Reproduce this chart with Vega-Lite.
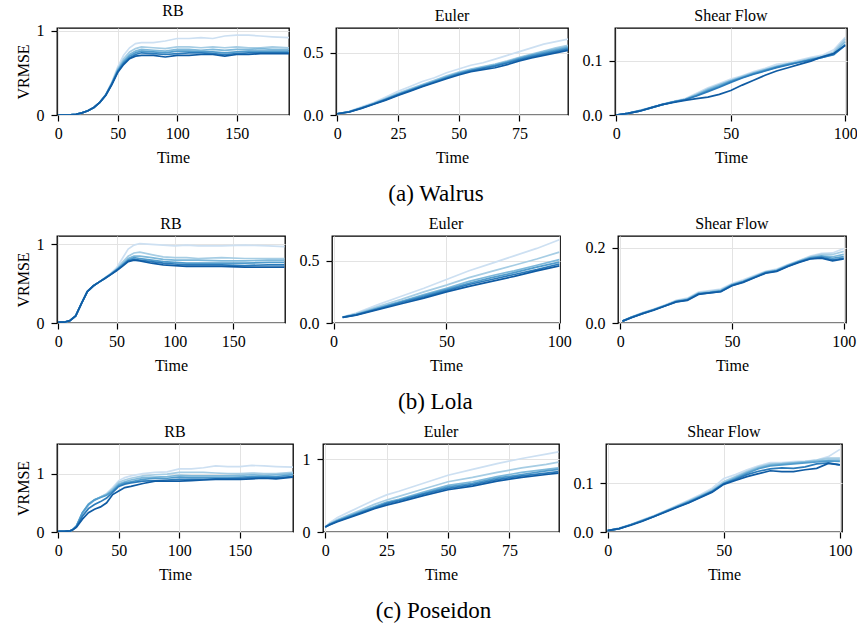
{
"$schema":"https://vega.github.io/schema/vega-lite/v6.json",
"background":"white",
"padding":{"left":14,"top":2,"right":2,"bottom":2},
"config":{
 "font":"Liberation Serif",
 "view":{"stroke":"#000","strokeWidth":1.3},
 "axis":{"domain":false,"labelFont":"Liberation Serif","titleFont":"Liberation Serif"},
 "title":{"font":"Liberation Serif","fontWeight":"normal"}
},
"datasets":{
"wRB":[
{"t":0,"s":1,"v":0},{"t":10,"s":1,"v":0.002},{"t":15,"s":1,"v":0.008},{"t":20,"s":1,"v":0.025},{"t":25,"s":1,"v":0.05},{"t":30,"s":1,"v":0.09},{"t":35,"s":1,"v":0.15},{"t":40,"s":1,"v":0.245},{"t":45,"s":1,"v":0.39},{"t":50,"s":1,"v":0.57},{"t":55,"s":1,"v":0.71},{"t":60,"s":1,"v":0.8},{"t":65,"s":1,"v":0.85},{"t":70,"s":1,"v":0.86},{"t":80,"s":1,"v":0.86},{"t":90,"s":1,"v":0.88},{"t":100,"s":1,"v":0.91},{"t":110,"s":1,"v":0.91},{"t":120,"s":1,"v":0.92},{"t":130,"s":1,"v":0.91},{"t":140,"s":1,"v":0.94},{"t":150,"s":1,"v":0.95},{"t":160,"s":1,"v":0.95},{"t":170,"s":1,"v":0.94},{"t":180,"s":1,"v":0.93},{"t":194,"s":1,"v":0.92},
{"t":0,"s":2,"v":0},{"t":10,"s":2,"v":0.002},{"t":15,"s":2,"v":0.008},{"t":20,"s":2,"v":0.025},{"t":25,"s":2,"v":0.05},{"t":30,"s":2,"v":0.09},{"t":35,"s":2,"v":0.15},{"t":40,"s":2,"v":0.24},{"t":45,"s":2,"v":0.38},{"t":50,"s":2,"v":0.55},{"t":55,"s":2,"v":0.67},{"t":60,"s":2,"v":0.75},{"t":65,"s":2,"v":0.79},{"t":70,"s":2,"v":0.81},{"t":80,"s":2,"v":0.8},{"t":90,"s":2,"v":0.79},{"t":100,"s":2,"v":0.81},{"t":110,"s":2,"v":0.81},{"t":120,"s":2,"v":0.8},{"t":130,"s":2,"v":0.81},{"t":140,"s":2,"v":0.8},{"t":150,"s":2,"v":0.81},{"t":160,"s":2,"v":0.8},{"t":170,"s":2,"v":0.8},{"t":180,"s":2,"v":0.81},{"t":194,"s":2,"v":0.8},
{"t":0,"s":3,"v":0},{"t":10,"s":3,"v":0.002},{"t":15,"s":3,"v":0.008},{"t":20,"s":3,"v":0.025},{"t":25,"s":3,"v":0.05},{"t":30,"s":3,"v":0.09},{"t":35,"s":3,"v":0.15},{"t":40,"s":3,"v":0.24},{"t":45,"s":3,"v":0.375},{"t":50,"s":3,"v":0.535},{"t":55,"s":3,"v":0.645},{"t":60,"s":3,"v":0.72},{"t":65,"s":3,"v":0.76},{"t":70,"s":3,"v":0.78},{"t":80,"s":3,"v":0.77},{"t":90,"s":3,"v":0.76},{"t":100,"s":3,"v":0.78},{"t":110,"s":3,"v":0.78},{"t":120,"s":3,"v":0.77},{"t":130,"s":3,"v":0.78},{"t":140,"s":3,"v":0.77},{"t":150,"s":3,"v":0.78},{"t":160,"s":3,"v":0.78},{"t":170,"s":3,"v":0.79},{"t":180,"s":3,"v":0.78},{"t":194,"s":3,"v":0.78},
{"t":0,"s":4,"v":0},{"t":10,"s":4,"v":0.002},{"t":15,"s":4,"v":0.008},{"t":20,"s":4,"v":0.025},{"t":25,"s":4,"v":0.05},{"t":30,"s":4,"v":0.09},{"t":35,"s":4,"v":0.15},{"t":40,"s":4,"v":0.24},{"t":45,"s":4,"v":0.37},{"t":50,"s":4,"v":0.525},{"t":55,"s":4,"v":0.63},{"t":60,"s":4,"v":0.7},{"t":65,"s":4,"v":0.74},{"t":70,"s":4,"v":0.76},{"t":80,"s":4,"v":0.75},{"t":90,"s":4,"v":0.74},{"t":100,"s":4,"v":0.76},{"t":110,"s":4,"v":0.76},{"t":120,"s":4,"v":0.75},{"t":130,"s":4,"v":0.75},{"t":140,"s":4,"v":0.74},{"t":150,"s":4,"v":0.75},{"t":160,"s":4,"v":0.76},{"t":170,"s":4,"v":0.76},{"t":180,"s":4,"v":0.76},{"t":194,"s":4,"v":0.76},
{"t":0,"s":5,"v":0},{"t":10,"s":5,"v":0.002},{"t":15,"s":5,"v":0.008},{"t":20,"s":5,"v":0.025},{"t":25,"s":5,"v":0.05},{"t":30,"s":5,"v":0.09},{"t":35,"s":5,"v":0.15},{"t":40,"s":5,"v":0.235},{"t":45,"s":5,"v":0.365},{"t":50,"s":5,"v":0.515},{"t":55,"s":5,"v":0.615},{"t":60,"s":5,"v":0.68},{"t":65,"s":5,"v":0.72},{"t":70,"s":5,"v":0.74},{"t":80,"s":5,"v":0.73},{"t":90,"s":5,"v":0.72},{"t":100,"s":5,"v":0.73},{"t":110,"s":5,"v":0.74},{"t":120,"s":5,"v":0.74},{"t":130,"s":5,"v":0.73},{"t":140,"s":5,"v":0.72},{"t":150,"s":5,"v":0.73},{"t":160,"s":5,"v":0.74},{"t":170,"s":5,"v":0.74},{"t":180,"s":5,"v":0.74},{"t":194,"s":5,"v":0.74},
{"t":0,"s":6,"v":0},{"t":10,"s":6,"v":0.002},{"t":15,"s":6,"v":0.008},{"t":20,"s":6,"v":0.025},{"t":25,"s":6,"v":0.05},{"t":30,"s":6,"v":0.09},{"t":35,"s":6,"v":0.15},{"t":40,"s":6,"v":0.235},{"t":45,"s":6,"v":0.36},{"t":50,"s":6,"v":0.505},{"t":55,"s":6,"v":0.6},{"t":60,"s":6,"v":0.67},{"t":65,"s":6,"v":0.7},{"t":70,"s":6,"v":0.71},{"t":80,"s":6,"v":0.71},{"t":90,"s":6,"v":0.69},{"t":100,"s":6,"v":0.71},{"t":110,"s":6,"v":0.71},{"t":120,"s":6,"v":0.72},{"t":130,"s":6,"v":0.72},{"t":140,"s":6,"v":0.7},{"t":150,"s":6,"v":0.72},{"t":160,"s":6,"v":0.72},{"t":170,"s":6,"v":0.73},{"t":180,"s":6,"v":0.73},{"t":194,"s":6,"v":0.73}
],
"wEu":[
{"t":0,"s":1,"v":0.01},{"t":5,"s":1,"v":0.03},{"t":10,"s":1,"v":0.065},{"t":15,"s":1,"v":0.1},{"t":20,"s":1,"v":0.145},{"t":25,"s":1,"v":0.19},{"t":30,"s":1,"v":0.23},{"t":35,"s":1,"v":0.27},{"t":40,"s":1,"v":0.3},{"t":45,"s":1,"v":0.34},{"t":50,"s":1,"v":0.37},{"t":55,"s":1,"v":0.4},{"t":60,"s":1,"v":0.42},{"t":65,"s":1,"v":0.45},{"t":70,"s":1,"v":0.48},{"t":75,"s":1,"v":0.51},{"t":80,"s":1,"v":0.54},{"t":85,"s":1,"v":0.57},{"t":90,"s":1,"v":0.59},{"t":95,"s":1,"v":0.61},
{"t":0,"s":2,"v":0.01},{"t":5,"s":2,"v":0.028},{"t":10,"s":2,"v":0.06},{"t":15,"s":2,"v":0.095},{"t":20,"s":2,"v":0.135},{"t":25,"s":2,"v":0.175},{"t":30,"s":2,"v":0.21},{"t":35,"s":2,"v":0.245},{"t":40,"s":2,"v":0.28},{"t":45,"s":2,"v":0.315},{"t":50,"s":2,"v":0.345},{"t":55,"s":2,"v":0.37},{"t":60,"s":2,"v":0.39},{"t":65,"s":2,"v":0.41},{"t":70,"s":2,"v":0.435},{"t":75,"s":2,"v":0.465},{"t":80,"s":2,"v":0.49},{"t":85,"s":2,"v":0.515},{"t":90,"s":2,"v":0.54},{"t":95,"s":2,"v":0.56},
{"t":0,"s":3,"v":0.01},{"t":5,"s":3,"v":0.027},{"t":10,"s":3,"v":0.058},{"t":15,"s":3,"v":0.092},{"t":20,"s":3,"v":0.13},{"t":25,"s":3,"v":0.17},{"t":30,"s":3,"v":0.205},{"t":35,"s":3,"v":0.24},{"t":40,"s":3,"v":0.275},{"t":45,"s":3,"v":0.31},{"t":50,"s":3,"v":0.34},{"t":55,"s":3,"v":0.365},{"t":60,"s":3,"v":0.385},{"t":65,"s":3,"v":0.405},{"t":70,"s":3,"v":0.43},{"t":75,"s":3,"v":0.46},{"t":80,"s":3,"v":0.485},{"t":85,"s":3,"v":0.51},{"t":90,"s":3,"v":0.53},{"t":95,"s":3,"v":0.55},
{"t":0,"s":4,"v":0.01},{"t":5,"s":4,"v":0.026},{"t":10,"s":4,"v":0.056},{"t":15,"s":4,"v":0.09},{"t":20,"s":4,"v":0.127},{"t":25,"s":4,"v":0.165},{"t":30,"s":4,"v":0.2},{"t":35,"s":4,"v":0.235},{"t":40,"s":4,"v":0.27},{"t":45,"s":4,"v":0.303},{"t":50,"s":4,"v":0.335},{"t":55,"s":4,"v":0.36},{"t":60,"s":4,"v":0.38},{"t":65,"s":4,"v":0.4},{"t":70,"s":4,"v":0.425},{"t":75,"s":4,"v":0.455},{"t":80,"s":4,"v":0.48},{"t":85,"s":4,"v":0.5},{"t":90,"s":4,"v":0.52},{"t":95,"s":4,"v":0.54},
{"t":0,"s":5,"v":0.01},{"t":5,"s":5,"v":0.025},{"t":10,"s":5,"v":0.055},{"t":15,"s":5,"v":0.088},{"t":20,"s":5,"v":0.124},{"t":25,"s":5,"v":0.162},{"t":30,"s":5,"v":0.197},{"t":35,"s":5,"v":0.232},{"t":40,"s":5,"v":0.266},{"t":45,"s":5,"v":0.298},{"t":50,"s":5,"v":0.33},{"t":55,"s":5,"v":0.355},{"t":60,"s":5,"v":0.375},{"t":65,"s":5,"v":0.393},{"t":70,"s":5,"v":0.418},{"t":75,"s":5,"v":0.445},{"t":80,"s":5,"v":0.47},{"t":85,"s":5,"v":0.49},{"t":90,"s":5,"v":0.51},{"t":95,"s":5,"v":0.53},
{"t":0,"s":6,"v":0.01},{"t":5,"s":6,"v":0.024},{"t":10,"s":6,"v":0.053},{"t":15,"s":6,"v":0.086},{"t":20,"s":6,"v":0.12},{"t":25,"s":6,"v":0.158},{"t":30,"s":6,"v":0.192},{"t":35,"s":6,"v":0.227},{"t":40,"s":6,"v":0.26},{"t":45,"s":6,"v":0.292},{"t":50,"s":6,"v":0.322},{"t":55,"s":6,"v":0.348},{"t":60,"s":6,"v":0.365},{"t":65,"s":6,"v":0.38},{"t":70,"s":6,"v":0.405},{"t":75,"s":6,"v":0.435},{"t":80,"s":6,"v":0.46},{"t":85,"s":6,"v":0.48},{"t":90,"s":6,"v":0.5},{"t":95,"s":6,"v":0.52}
],
"wSh":[
{"t":0,"s":1,"v":0},{"t":5,"s":1,"v":0.003},{"t":10,"s":1,"v":0.008},{"t":15,"s":1,"v":0.014},{"t":20,"s":1,"v":0.02},{"t":25,"s":1,"v":0.025},{"t":30,"s":1,"v":0.03},{"t":35,"s":1,"v":0.04},{"t":40,"s":1,"v":0.05},{"t":45,"s":1,"v":0.058},{"t":50,"s":1,"v":0.066},{"t":55,"s":1,"v":0.072},{"t":60,"s":1,"v":0.08},{"t":65,"s":1,"v":0.086},{"t":70,"s":1,"v":0.093},{"t":75,"s":1,"v":0.096},{"t":80,"s":1,"v":0.101},{"t":85,"s":1,"v":0.106},{"t":90,"s":1,"v":0.11},{"t":95,"s":1,"v":0.12},{"t":100,"s":1,"v":0.143},
{"t":0,"s":2,"v":0},{"t":5,"s":2,"v":0.003},{"t":10,"s":2,"v":0.008},{"t":15,"s":2,"v":0.013},{"t":20,"s":2,"v":0.019},{"t":25,"s":2,"v":0.024},{"t":30,"s":2,"v":0.029},{"t":35,"s":2,"v":0.038},{"t":40,"s":2,"v":0.048},{"t":45,"s":2,"v":0.056},{"t":50,"s":2,"v":0.064},{"t":55,"s":2,"v":0.071},{"t":60,"s":2,"v":0.078},{"t":65,"s":2,"v":0.084},{"t":70,"s":2,"v":0.09},{"t":75,"s":2,"v":0.094},{"t":80,"s":2,"v":0.099},{"t":85,"s":2,"v":0.104},{"t":90,"s":2,"v":0.108},{"t":95,"s":2,"v":0.116},{"t":100,"s":2,"v":0.14},
{"t":0,"s":3,"v":0},{"t":5,"s":3,"v":0.003},{"t":10,"s":3,"v":0.008},{"t":15,"s":3,"v":0.013},{"t":20,"s":3,"v":0.019},{"t":25,"s":3,"v":0.024},{"t":30,"s":3,"v":0.029},{"t":35,"s":3,"v":0.037},{"t":40,"s":3,"v":0.047},{"t":45,"s":3,"v":0.055},{"t":50,"s":3,"v":0.063},{"t":55,"s":3,"v":0.07},{"t":60,"s":3,"v":0.077},{"t":65,"s":3,"v":0.083},{"t":70,"s":3,"v":0.089},{"t":75,"s":3,"v":0.094},{"t":80,"s":3,"v":0.098},{"t":85,"s":3,"v":0.103},{"t":90,"s":3,"v":0.107},{"t":95,"s":3,"v":0.114},{"t":100,"s":3,"v":0.135},
{"t":0,"s":4,"v":0},{"t":5,"s":4,"v":0.003},{"t":10,"s":4,"v":0.007},{"t":15,"s":4,"v":0.013},{"t":20,"s":4,"v":0.019},{"t":25,"s":4,"v":0.024},{"t":30,"s":4,"v":0.028},{"t":35,"s":4,"v":0.036},{"t":40,"s":4,"v":0.045},{"t":45,"s":4,"v":0.053},{"t":50,"s":4,"v":0.062},{"t":55,"s":4,"v":0.069},{"t":60,"s":4,"v":0.076},{"t":65,"s":4,"v":0.082},{"t":70,"s":4,"v":0.088},{"t":75,"s":4,"v":0.093},{"t":80,"s":4,"v":0.097},{"t":85,"s":4,"v":0.102},{"t":90,"s":4,"v":0.106},{"t":95,"s":4,"v":0.112},{"t":100,"s":4,"v":0.13},
{"t":0,"s":5,"v":0},{"t":5,"s":5,"v":0.003},{"t":10,"s":5,"v":0.007},{"t":15,"s":5,"v":0.013},{"t":20,"s":5,"v":0.019},{"t":25,"s":5,"v":0.024},{"t":30,"s":5,"v":0.028},{"t":35,"s":5,"v":0.035},{"t":40,"s":5,"v":0.043},{"t":45,"s":5,"v":0.051},{"t":50,"s":5,"v":0.06},{"t":55,"s":5,"v":0.068},{"t":60,"s":5,"v":0.075},{"t":65,"s":5,"v":0.081},{"t":70,"s":5,"v":0.087},{"t":75,"s":5,"v":0.092},{"t":80,"s":5,"v":0.097},{"t":85,"s":5,"v":0.101},{"t":90,"s":5,"v":0.106},{"t":95,"s":5,"v":0.111},{"t":100,"s":5,"v":0.128},
{"t":0,"s":6,"v":0},{"t":5,"s":6,"v":0.003},{"t":10,"s":6,"v":0.007},{"t":15,"s":6,"v":0.013},{"t":20,"s":6,"v":0.019},{"t":25,"s":6,"v":0.023},{"t":30,"s":6,"v":0.027},{"t":35,"s":6,"v":0.03},{"t":40,"s":6,"v":0.033},{"t":45,"s":6,"v":0.038},{"t":50,"s":6,"v":0.045},{"t":55,"s":6,"v":0.055},{"t":60,"s":6,"v":0.064},{"t":65,"s":6,"v":0.073},{"t":70,"s":6,"v":0.081},{"t":75,"s":6,"v":0.087},{"t":80,"s":6,"v":0.093},{"t":85,"s":6,"v":0.099},{"t":90,"s":6,"v":0.107},{"t":95,"s":6,"v":0.113},{"t":100,"s":6,"v":0.128}
],
"lRB":[
{"t":0,"s":1,"v":0.01},{"t":5,"s":1,"v":0.01},{"t":10,"s":1,"v":0.03},{"t":15,"s":1,"v":0.09},{"t":20,"s":1,"v":0.25},{"t":25,"s":1,"v":0.4},{"t":30,"s":1,"v":0.47},{"t":35,"s":1,"v":0.52},{"t":40,"s":1,"v":0.575},{"t":45,"s":1,"v":0.63},{"t":50,"s":1,"v":0.7},{"t":55,"s":1,"v":0.82},{"t":60,"s":1,"v":0.94},{"t":65,"s":1,"v":0.99},{"t":70,"s":1,"v":1.01},{"t":80,"s":1,"v":1.0},{"t":90,"s":1,"v":0.99},{"t":100,"s":1,"v":0.98},{"t":110,"s":1,"v":0.99},{"t":120,"s":1,"v":0.98},{"t":140,"s":1,"v":0.98},{"t":160,"s":1,"v":0.99},{"t":180,"s":1,"v":0.98},{"t":194,"s":1,"v":0.97},
{"t":0,"s":2,"v":0.01},{"t":5,"s":2,"v":0.01},{"t":10,"s":2,"v":0.03},{"t":15,"s":2,"v":0.09},{"t":20,"s":2,"v":0.25},{"t":25,"s":2,"v":0.4},{"t":30,"s":2,"v":0.47},{"t":35,"s":2,"v":0.52},{"t":40,"s":2,"v":0.57},{"t":45,"s":2,"v":0.625},{"t":50,"s":2,"v":0.685},{"t":55,"s":2,"v":0.77},{"t":60,"s":2,"v":0.85},{"t":65,"s":2,"v":0.89},{"t":70,"s":2,"v":0.9},{"t":80,"s":2,"v":0.87},{"t":90,"s":2,"v":0.84},{"t":100,"s":2,"v":0.83},{"t":110,"s":2,"v":0.83},{"t":120,"s":2,"v":0.82},{"t":140,"s":2,"v":0.83},{"t":160,"s":2,"v":0.82},{"t":180,"s":2,"v":0.82},{"t":194,"s":2,"v":0.82},
{"t":0,"s":3,"v":0.01},{"t":5,"s":3,"v":0.01},{"t":10,"s":3,"v":0.03},{"t":15,"s":3,"v":0.09},{"t":20,"s":3,"v":0.25},{"t":25,"s":3,"v":0.4},{"t":30,"s":3,"v":0.47},{"t":35,"s":3,"v":0.52},{"t":40,"s":3,"v":0.57},{"t":45,"s":3,"v":0.62},{"t":50,"s":3,"v":0.68},{"t":55,"s":3,"v":0.75},{"t":60,"s":3,"v":0.82},{"t":65,"s":3,"v":0.85},{"t":70,"s":3,"v":0.85},{"t":80,"s":3,"v":0.83},{"t":90,"s":3,"v":0.81},{"t":100,"s":3,"v":0.8},{"t":110,"s":3,"v":0.8},{"t":120,"s":3,"v":0.8},{"t":140,"s":3,"v":0.79},{"t":160,"s":3,"v":0.79},{"t":180,"s":3,"v":0.8},{"t":194,"s":3,"v":0.8},
{"t":0,"s":4,"v":0.01},{"t":5,"s":4,"v":0.01},{"t":10,"s":4,"v":0.03},{"t":15,"s":4,"v":0.09},{"t":20,"s":4,"v":0.25},{"t":25,"s":4,"v":0.4},{"t":30,"s":4,"v":0.47},{"t":35,"s":4,"v":0.52},{"t":40,"s":4,"v":0.57},{"t":45,"s":4,"v":0.62},{"t":50,"s":4,"v":0.675},{"t":55,"s":4,"v":0.74},{"t":60,"s":4,"v":0.8},{"t":65,"s":4,"v":0.83},{"t":70,"s":4,"v":0.82},{"t":80,"s":4,"v":0.8},{"t":90,"s":4,"v":0.78},{"t":100,"s":4,"v":0.77},{"t":110,"s":4,"v":0.76},{"t":120,"s":4,"v":0.76},{"t":140,"s":4,"v":0.76},{"t":160,"s":4,"v":0.76},{"t":180,"s":4,"v":0.77},{"t":194,"s":4,"v":0.77},
{"t":0,"s":5,"v":0.01},{"t":5,"s":5,"v":0.01},{"t":10,"s":5,"v":0.03},{"t":15,"s":5,"v":0.09},{"t":20,"s":5,"v":0.25},{"t":25,"s":5,"v":0.4},{"t":30,"s":5,"v":0.47},{"t":35,"s":5,"v":0.52},{"t":40,"s":5,"v":0.565},{"t":45,"s":5,"v":0.615},{"t":50,"s":5,"v":0.67},{"t":55,"s":5,"v":0.73},{"t":60,"s":5,"v":0.79},{"t":65,"s":5,"v":0.81},{"t":70,"s":5,"v":0.8},{"t":80,"s":5,"v":0.78},{"t":90,"s":5,"v":0.76},{"t":100,"s":5,"v":0.75},{"t":110,"s":5,"v":0.74},{"t":120,"s":5,"v":0.74},{"t":140,"s":5,"v":0.74},{"t":160,"s":5,"v":0.73},{"t":180,"s":5,"v":0.74},{"t":194,"s":5,"v":0.74},
{"t":0,"s":6,"v":0.01},{"t":5,"s":6,"v":0.01},{"t":10,"s":6,"v":0.03},{"t":15,"s":6,"v":0.09},{"t":20,"s":6,"v":0.25},{"t":25,"s":6,"v":0.4},{"t":30,"s":6,"v":0.47},{"t":35,"s":6,"v":0.52},{"t":40,"s":6,"v":0.565},{"t":45,"s":6,"v":0.615},{"t":50,"s":6,"v":0.665},{"t":55,"s":6,"v":0.72},{"t":60,"s":6,"v":0.78},{"t":65,"s":6,"v":0.8},{"t":70,"s":6,"v":0.79},{"t":80,"s":6,"v":0.76},{"t":90,"s":6,"v":0.74},{"t":100,"s":6,"v":0.73},{"t":110,"s":6,"v":0.72},{"t":120,"s":6,"v":0.72},{"t":140,"s":6,"v":0.72},{"t":160,"s":6,"v":0.71},{"t":180,"s":6,"v":0.71},{"t":194,"s":6,"v":0.71}
],
"lEu":[
{"t":4,"s":1,"v":0.048},{"t":10,"s":1,"v":0.08},{"t":20,"s":1,"v":0.15},{"t":30,"s":1,"v":0.215},{"t":40,"s":1,"v":0.28},{"t":50,"s":1,"v":0.35},{"t":60,"s":1,"v":0.42},{"t":70,"s":1,"v":0.48},{"t":80,"s":1,"v":0.54},{"t":90,"s":1,"v":0.6},{"t":100,"s":1,"v":0.67},
{"t":4,"s":2,"v":0.048},{"t":10,"s":2,"v":0.075},{"t":20,"s":2,"v":0.135},{"t":30,"s":2,"v":0.19},{"t":40,"s":2,"v":0.25},{"t":50,"s":2,"v":0.305},{"t":60,"s":2,"v":0.365},{"t":70,"s":2,"v":0.415},{"t":80,"s":2,"v":0.465},{"t":90,"s":2,"v":0.515},{"t":100,"s":2,"v":0.57},
{"t":4,"s":3,"v":0.046},{"t":10,"s":3,"v":0.07},{"t":20,"s":3,"v":0.125},{"t":30,"s":3,"v":0.175},{"t":40,"s":3,"v":0.228},{"t":50,"s":3,"v":0.28},{"t":60,"s":3,"v":0.335},{"t":70,"s":3,"v":0.38},{"t":80,"s":3,"v":0.42},{"t":90,"s":3,"v":0.465},{"t":100,"s":3,"v":0.51},
{"t":4,"s":4,"v":0.046},{"t":10,"s":4,"v":0.068},{"t":20,"s":4,"v":0.12},{"t":30,"s":4,"v":0.17},{"t":40,"s":4,"v":0.22},{"t":50,"s":4,"v":0.27},{"t":60,"s":4,"v":0.32},{"t":70,"s":4,"v":0.365},{"t":80,"s":4,"v":0.405},{"t":90,"s":4,"v":0.45},{"t":100,"s":4,"v":0.49},
{"t":4,"s":5,"v":0.045},{"t":10,"s":5,"v":0.066},{"t":20,"s":5,"v":0.115},{"t":30,"s":5,"v":0.165},{"t":40,"s":5,"v":0.21},{"t":50,"s":5,"v":0.26},{"t":60,"s":5,"v":0.31},{"t":70,"s":5,"v":0.35},{"t":80,"s":5,"v":0.39},{"t":90,"s":5,"v":0.43},{"t":100,"s":5,"v":0.475},
{"t":4,"s":6,"v":0.045},{"t":10,"s":6,"v":0.063},{"t":20,"s":6,"v":0.11},{"t":30,"s":6,"v":0.155},{"t":40,"s":6,"v":0.2},{"t":50,"s":6,"v":0.25},{"t":60,"s":6,"v":0.295},{"t":70,"s":6,"v":0.335},{"t":80,"s":6,"v":0.375},{"t":90,"s":6,"v":0.42},{"t":100,"s":6,"v":0.46}
],
"lSh":[
{"t":1,"s":1,"v":0.005},{"t":5,"s":1,"v":0.016},{"t":10,"s":1,"v":0.028},{"t":15,"s":1,"v":0.037},{"t":20,"s":1,"v":0.048},{"t":25,"s":1,"v":0.06},{"t":30,"s":1,"v":0.066},{"t":35,"s":1,"v":0.082},{"t":40,"s":1,"v":0.086},{"t":45,"s":1,"v":0.09},{"t":50,"s":1,"v":0.105},{"t":55,"s":1,"v":0.115},{"t":60,"s":1,"v":0.126},{"t":65,"s":1,"v":0.137},{"t":70,"s":1,"v":0.143},{"t":75,"s":1,"v":0.155},{"t":80,"s":1,"v":0.166},{"t":85,"s":1,"v":0.178},{"t":90,"s":1,"v":0.185},{"t":95,"s":1,"v":0.186},{"t":100,"s":1,"v":0.198},
{"t":1,"s":2,"v":0.005},{"t":5,"s":2,"v":0.016},{"t":10,"s":2,"v":0.027},{"t":15,"s":2,"v":0.036},{"t":20,"s":2,"v":0.047},{"t":25,"s":2,"v":0.059},{"t":30,"s":2,"v":0.064},{"t":35,"s":2,"v":0.08},{"t":40,"s":2,"v":0.084},{"t":45,"s":2,"v":0.088},{"t":50,"s":2,"v":0.103},{"t":55,"s":2,"v":0.112},{"t":60,"s":2,"v":0.124},{"t":65,"s":2,"v":0.136},{"t":70,"s":2,"v":0.141},{"t":75,"s":2,"v":0.154},{"t":80,"s":2,"v":0.165},{"t":85,"s":2,"v":0.176},{"t":90,"s":2,"v":0.182},{"t":95,"s":2,"v":0.182},{"t":100,"s":2,"v":0.19},
{"t":1,"s":3,"v":0.005},{"t":5,"s":3,"v":0.015},{"t":10,"s":3,"v":0.026},{"t":15,"s":3,"v":0.036},{"t":20,"s":3,"v":0.046},{"t":25,"s":3,"v":0.058},{"t":30,"s":3,"v":0.063},{"t":35,"s":3,"v":0.079},{"t":40,"s":3,"v":0.082},{"t":45,"s":3,"v":0.086},{"t":50,"s":3,"v":0.102},{"t":55,"s":3,"v":0.111},{"t":60,"s":3,"v":0.123},{"t":65,"s":3,"v":0.135},{"t":70,"s":3,"v":0.14},{"t":75,"s":3,"v":0.153},{"t":80,"s":3,"v":0.164},{"t":85,"s":3,"v":0.174},{"t":90,"s":3,"v":0.178},{"t":95,"s":3,"v":0.176},{"t":100,"s":3,"v":0.182},
{"t":1,"s":4,"v":0.005},{"t":5,"s":4,"v":0.015},{"t":10,"s":4,"v":0.026},{"t":15,"s":4,"v":0.035},{"t":20,"s":4,"v":0.046},{"t":25,"s":4,"v":0.057},{"t":30,"s":4,"v":0.062},{"t":35,"s":4,"v":0.078},{"t":40,"s":4,"v":0.081},{"t":45,"s":4,"v":0.085},{"t":50,"s":4,"v":0.101},{"t":55,"s":4,"v":0.11},{"t":60,"s":4,"v":0.122},{"t":65,"s":4,"v":0.134},{"t":70,"s":4,"v":0.139},{"t":75,"s":4,"v":0.152},{"t":80,"s":4,"v":0.163},{"t":85,"s":4,"v":0.173},{"t":90,"s":4,"v":0.177},{"t":95,"s":4,"v":0.172},{"t":100,"s":4,"v":0.176},
{"t":1,"s":5,"v":0.005},{"t":5,"s":5,"v":0.015},{"t":10,"s":5,"v":0.025},{"t":15,"s":5,"v":0.035},{"t":20,"s":5,"v":0.045},{"t":25,"s":5,"v":0.056},{"t":30,"s":5,"v":0.061},{"t":35,"s":5,"v":0.077},{"t":40,"s":5,"v":0.08},{"t":45,"s":5,"v":0.084},{"t":50,"s":5,"v":0.1},{"t":55,"s":5,"v":0.109},{"t":60,"s":5,"v":0.121},{"t":65,"s":5,"v":0.133},{"t":70,"s":5,"v":0.138},{"t":75,"s":5,"v":0.151},{"t":80,"s":5,"v":0.162},{"t":85,"s":5,"v":0.171},{"t":90,"s":5,"v":0.174},{"t":95,"s":5,"v":0.168},{"t":100,"s":5,"v":0.172},
{"t":1,"s":6,"v":0.005},{"t":5,"s":6,"v":0.014},{"t":10,"s":6,"v":0.025},{"t":15,"s":6,"v":0.034},{"t":20,"s":6,"v":0.045},{"t":25,"s":6,"v":0.056},{"t":30,"s":6,"v":0.06},{"t":35,"s":6,"v":0.076},{"t":40,"s":6,"v":0.08},{"t":45,"s":6,"v":0.083},{"t":50,"s":6,"v":0.099},{"t":55,"s":6,"v":0.108},{"t":60,"s":6,"v":0.12},{"t":65,"s":6,"v":0.132},{"t":70,"s":6,"v":0.137},{"t":75,"s":6,"v":0.15},{"t":80,"s":6,"v":0.161},{"t":85,"s":6,"v":0.17},{"t":90,"s":6,"v":0.172},{"t":95,"s":6,"v":0.165},{"t":100,"s":6,"v":0.17}
],
"pRB":[
{"t":0,"s":1,"v":0.01},{"t":5,"s":1,"v":0.01},{"t":10,"s":1,"v":0.02},{"t":12,"s":1,"v":0.04},{"t":15,"s":1,"v":0.1},{"t":20,"s":1,"v":0.3},{"t":25,"s":1,"v":0.45},{"t":30,"s":1,"v":0.54},{"t":35,"s":1,"v":0.6},{"t":40,"s":1,"v":0.66},{"t":45,"s":1,"v":0.76},{"t":50,"s":1,"v":0.88},{"t":55,"s":1,"v":0.93},{"t":60,"s":1,"v":0.96},{"t":70,"s":1,"v":1.0},{"t":80,"s":1,"v":1.02},{"t":90,"s":1,"v":1.03},{"t":100,"s":1,"v":1.08},{"t":110,"s":1,"v":1.08},{"t":120,"s":1,"v":1.1},{"t":130,"s":1,"v":1.13},{"t":140,"s":1,"v":1.12},{"t":150,"s":1,"v":1.12},{"t":160,"s":1,"v":1.14},{"t":170,"s":1,"v":1.13},{"t":180,"s":1,"v":1.12},{"t":194,"s":1,"v":1.11},
{"t":0,"s":2,"v":0.01},{"t":5,"s":2,"v":0.01},{"t":10,"s":2,"v":0.02},{"t":12,"s":2,"v":0.04},{"t":15,"s":2,"v":0.1},{"t":20,"s":2,"v":0.32},{"t":25,"s":2,"v":0.47},{"t":30,"s":2,"v":0.55},{"t":35,"s":2,"v":0.6},{"t":40,"s":2,"v":0.65},{"t":45,"s":2,"v":0.74},{"t":50,"s":2,"v":0.85},{"t":55,"s":2,"v":0.89},{"t":60,"s":2,"v":0.92},{"t":70,"s":2,"v":0.96},{"t":80,"s":2,"v":0.98},{"t":90,"s":2,"v":0.99},{"t":100,"s":2,"v":1.02},{"t":110,"s":2,"v":1.02},{"t":120,"s":2,"v":1.02},{"t":130,"s":2,"v":1.01},{"t":140,"s":2,"v":1.0},{"t":150,"s":2,"v":1.0},{"t":160,"s":2,"v":1.01},{"t":170,"s":2,"v":1.0},{"t":180,"s":2,"v":1.0},{"t":194,"s":2,"v":1.02},
{"t":0,"s":3,"v":0.01},{"t":5,"s":3,"v":0.01},{"t":10,"s":3,"v":0.02},{"t":12,"s":3,"v":0.04},{"t":15,"s":3,"v":0.1},{"t":20,"s":3,"v":0.33},{"t":25,"s":3,"v":0.48},{"t":30,"s":3,"v":0.55},{"t":35,"s":3,"v":0.6},{"t":40,"s":3,"v":0.64},{"t":45,"s":3,"v":0.72},{"t":50,"s":3,"v":0.82},{"t":55,"s":3,"v":0.86},{"t":60,"s":3,"v":0.89},{"t":70,"s":3,"v":0.93},{"t":80,"s":3,"v":0.94},{"t":90,"s":3,"v":0.95},{"t":100,"s":3,"v":0.97},{"t":110,"s":3,"v":0.96},{"t":120,"s":3,"v":0.96},{"t":130,"s":3,"v":0.96},{"t":140,"s":3,"v":0.96},{"t":150,"s":3,"v":0.97},{"t":160,"s":3,"v":0.98},{"t":170,"s":3,"v":0.97},{"t":180,"s":3,"v":0.98},{"t":194,"s":3,"v":1.0},
{"t":0,"s":4,"v":0.01},{"t":5,"s":4,"v":0.01},{"t":10,"s":4,"v":0.02},{"t":12,"s":4,"v":0.04},{"t":15,"s":4,"v":0.1},{"t":20,"s":4,"v":0.33},{"t":25,"s":4,"v":0.47},{"t":30,"s":4,"v":0.55},{"t":35,"s":4,"v":0.59},{"t":40,"s":4,"v":0.63},{"t":45,"s":4,"v":0.7},{"t":50,"s":4,"v":0.8},{"t":55,"s":4,"v":0.84},{"t":60,"s":4,"v":0.86},{"t":70,"s":4,"v":0.9},{"t":80,"s":4,"v":0.92},{"t":90,"s":4,"v":0.92},{"t":100,"s":4,"v":0.94},{"t":110,"s":4,"v":0.93},{"t":120,"s":4,"v":0.93},{"t":130,"s":4,"v":0.93},{"t":140,"s":4,"v":0.93},{"t":150,"s":4,"v":0.94},{"t":160,"s":4,"v":0.95},{"t":170,"s":4,"v":0.95},{"t":180,"s":4,"v":0.95},{"t":194,"s":4,"v":0.98},
{"t":0,"s":5,"v":0.01},{"t":5,"s":5,"v":0.01},{"t":10,"s":5,"v":0.02},{"t":12,"s":5,"v":0.04},{"t":15,"s":5,"v":0.09},{"t":20,"s":5,"v":0.27},{"t":25,"s":5,"v":0.4},{"t":30,"s":5,"v":0.47},{"t":35,"s":5,"v":0.52},{"t":40,"s":5,"v":0.58},{"t":45,"s":5,"v":0.68},{"t":50,"s":5,"v":0.78},{"t":55,"s":5,"v":0.82},{"t":60,"s":5,"v":0.84},{"t":70,"s":5,"v":0.87},{"t":80,"s":5,"v":0.88},{"t":90,"s":5,"v":0.89},{"t":100,"s":5,"v":0.9},{"t":110,"s":5,"v":0.9},{"t":120,"s":5,"v":0.9},{"t":130,"s":5,"v":0.91},{"t":140,"s":5,"v":0.91},{"t":150,"s":5,"v":0.92},{"t":160,"s":5,"v":0.93},{"t":170,"s":5,"v":0.93},{"t":180,"s":5,"v":0.93},{"t":194,"s":5,"v":0.95},
{"t":0,"s":6,"v":0.01},{"t":5,"s":6,"v":0.01},{"t":10,"s":6,"v":0.02},{"t":12,"s":6,"v":0.04},{"t":15,"s":6,"v":0.08},{"t":20,"s":6,"v":0.22},{"t":25,"s":6,"v":0.33},{"t":30,"s":6,"v":0.39},{"t":35,"s":6,"v":0.43},{"t":40,"s":6,"v":0.5},{"t":45,"s":6,"v":0.64},{"t":50,"s":6,"v":0.7},{"t":55,"s":6,"v":0.76},{"t":60,"s":6,"v":0.78},{"t":70,"s":6,"v":0.83},{"t":80,"s":6,"v":0.87},{"t":90,"s":6,"v":0.87},{"t":100,"s":6,"v":0.87},{"t":110,"s":6,"v":0.88},{"t":120,"s":6,"v":0.89},{"t":130,"s":6,"v":0.9},{"t":140,"s":6,"v":0.9},{"t":150,"s":6,"v":0.9},{"t":160,"s":6,"v":0.91},{"t":170,"s":6,"v":0.92},{"t":180,"s":6,"v":0.91},{"t":194,"s":6,"v":0.94}
],
"pEu":[
{"t":0,"s":1,"v":0.07},{"t":2,"s":1,"v":0.13},{"t":5,"s":1,"v":0.2},{"t":10,"s":1,"v":0.28},{"t":15,"s":1,"v":0.36},{"t":20,"s":1,"v":0.44},{"t":25,"s":1,"v":0.51},{"t":30,"s":1,"v":0.56},{"t":40,"s":1,"v":0.67},{"t":50,"s":1,"v":0.78},{"t":60,"s":1,"v":0.86},{"t":70,"s":1,"v":0.94},{"t":80,"s":1,"v":1.01},{"t":90,"s":1,"v":1.07},{"t":95,"s":1,"v":1.1},
{"t":0,"s":2,"v":0.07},{"t":2,"s":2,"v":0.12},{"t":5,"s":2,"v":0.17},{"t":10,"s":2,"v":0.24},{"t":15,"s":2,"v":0.31},{"t":20,"s":2,"v":0.38},{"t":25,"s":2,"v":0.44},{"t":30,"s":2,"v":0.49},{"t":40,"s":2,"v":0.59},{"t":50,"s":2,"v":0.69},{"t":60,"s":2,"v":0.75},{"t":70,"s":2,"v":0.82},{"t":80,"s":2,"v":0.88},{"t":90,"s":2,"v":0.93},{"t":95,"s":2,"v":0.96},
{"t":0,"s":3,"v":0.07},{"t":2,"s":3,"v":0.11},{"t":5,"s":3,"v":0.16},{"t":10,"s":3,"v":0.23},{"t":15,"s":3,"v":0.29},{"t":20,"s":3,"v":0.35},{"t":25,"s":3,"v":0.41},{"t":30,"s":3,"v":0.45},{"t":40,"s":3,"v":0.55},{"t":50,"s":3,"v":0.64},{"t":60,"s":3,"v":0.69},{"t":70,"s":3,"v":0.76},{"t":80,"s":3,"v":0.82},{"t":90,"s":3,"v":0.86},{"t":95,"s":3,"v":0.88},
{"t":0,"s":4,"v":0.07},{"t":2,"s":4,"v":0.11},{"t":5,"s":4,"v":0.155},{"t":10,"s":4,"v":0.22},{"t":15,"s":4,"v":0.28},{"t":20,"s":4,"v":0.34},{"t":25,"s":4,"v":0.4},{"t":30,"s":4,"v":0.44},{"t":40,"s":4,"v":0.53},{"t":50,"s":4,"v":0.62},{"t":60,"s":4,"v":0.67},{"t":70,"s":4,"v":0.74},{"t":80,"s":4,"v":0.79},{"t":90,"s":4,"v":0.84},{"t":95,"s":4,"v":0.86},
{"t":0,"s":5,"v":0.07},{"t":2,"s":5,"v":0.105},{"t":5,"s":5,"v":0.15},{"t":10,"s":5,"v":0.21},{"t":15,"s":5,"v":0.27},{"t":20,"s":5,"v":0.33},{"t":25,"s":5,"v":0.39},{"t":30,"s":5,"v":0.43},{"t":40,"s":5,"v":0.52},{"t":50,"s":5,"v":0.6},{"t":60,"s":5,"v":0.65},{"t":70,"s":5,"v":0.72},{"t":80,"s":5,"v":0.77},{"t":90,"s":5,"v":0.81},{"t":95,"s":5,"v":0.83},
{"t":0,"s":6,"v":0.07},{"t":2,"s":6,"v":0.1},{"t":5,"s":6,"v":0.14},{"t":10,"s":6,"v":0.2},{"t":15,"s":6,"v":0.26},{"t":20,"s":6,"v":0.32},{"t":25,"s":6,"v":0.37},{"t":30,"s":6,"v":0.41},{"t":40,"s":6,"v":0.5},{"t":50,"s":6,"v":0.58},{"t":60,"s":6,"v":0.63},{"t":70,"s":6,"v":0.7},{"t":80,"s":6,"v":0.75},{"t":90,"s":6,"v":0.79},{"t":95,"s":6,"v":0.81}
],
"pSh":[
{"t":0,"s":1,"v":0.003},{"t":5,"s":1,"v":0.008},{"t":10,"s":1,"v":0.016},{"t":15,"s":1,"v":0.025},{"t":20,"s":1,"v":0.034},{"t":25,"s":1,"v":0.044},{"t":30,"s":1,"v":0.055},{"t":35,"s":1,"v":0.066},{"t":40,"s":1,"v":0.077},{"t":45,"s":1,"v":0.09},{"t":50,"s":1,"v":0.11},{"t":55,"s":1,"v":0.118},{"t":60,"s":1,"v":0.128},{"t":65,"s":1,"v":0.136},{"t":70,"s":1,"v":0.143},{"t":75,"s":1,"v":0.143},{"t":80,"s":1,"v":0.145},{"t":85,"s":1,"v":0.146},{"t":90,"s":1,"v":0.148},{"t":95,"s":1,"v":0.155},{"t":100,"s":1,"v":0.17},
{"t":0,"s":2,"v":0.003},{"t":5,"s":2,"v":0.008},{"t":10,"s":2,"v":0.015},{"t":15,"s":2,"v":0.024},{"t":20,"s":2,"v":0.033},{"t":25,"s":2,"v":0.043},{"t":30,"s":2,"v":0.054},{"t":35,"s":2,"v":0.064},{"t":40,"s":2,"v":0.075},{"t":45,"s":2,"v":0.087},{"t":50,"s":2,"v":0.104},{"t":55,"s":2,"v":0.114},{"t":60,"s":2,"v":0.125},{"t":65,"s":2,"v":0.134},{"t":70,"s":2,"v":0.14},{"t":75,"s":2,"v":0.141},{"t":80,"s":2,"v":0.143},{"t":85,"s":2,"v":0.145},{"t":90,"s":2,"v":0.148},{"t":95,"s":2,"v":0.152},{"t":100,"s":2,"v":0.152},
{"t":0,"s":3,"v":0.003},{"t":5,"s":3,"v":0.007},{"t":10,"s":3,"v":0.015},{"t":15,"s":3,"v":0.024},{"t":20,"s":3,"v":0.033},{"t":25,"s":3,"v":0.043},{"t":30,"s":3,"v":0.053},{"t":35,"s":3,"v":0.063},{"t":40,"s":3,"v":0.074},{"t":45,"s":3,"v":0.085},{"t":50,"s":3,"v":0.101},{"t":55,"s":3,"v":0.112},{"t":60,"s":3,"v":0.123},{"t":65,"s":3,"v":0.132},{"t":70,"s":3,"v":0.138},{"t":75,"s":3,"v":0.14},{"t":80,"s":3,"v":0.142},{"t":85,"s":3,"v":0.144},{"t":90,"s":3,"v":0.146},{"t":95,"s":3,"v":0.148},{"t":100,"s":3,"v":0.148},
{"t":0,"s":4,"v":0.003},{"t":5,"s":4,"v":0.007},{"t":10,"s":4,"v":0.015},{"t":15,"s":4,"v":0.023},{"t":20,"s":4,"v":0.032},{"t":25,"s":4,"v":0.042},{"t":30,"s":4,"v":0.052},{"t":35,"s":4,"v":0.062},{"t":40,"s":4,"v":0.073},{"t":45,"s":4,"v":0.084},{"t":50,"s":4,"v":0.1},{"t":55,"s":4,"v":0.11},{"t":60,"s":4,"v":0.121},{"t":65,"s":4,"v":0.13},{"t":70,"s":4,"v":0.136},{"t":75,"s":4,"v":0.138},{"t":80,"s":4,"v":0.14},{"t":85,"s":4,"v":0.142},{"t":90,"s":4,"v":0.144},{"t":95,"s":4,"v":0.146},{"t":100,"s":4,"v":0.145},
{"t":0,"s":5,"v":0.003},{"t":5,"s":5,"v":0.007},{"t":10,"s":5,"v":0.015},{"t":15,"s":5,"v":0.023},{"t":20,"s":5,"v":0.032},{"t":25,"s":5,"v":0.042},{"t":30,"s":5,"v":0.052},{"t":35,"s":5,"v":0.061},{"t":40,"s":5,"v":0.072},{"t":45,"s":5,"v":0.083},{"t":50,"s":5,"v":0.099},{"t":55,"s":5,"v":0.108},{"t":60,"s":5,"v":0.118},{"t":65,"s":5,"v":0.125},{"t":70,"s":5,"v":0.13},{"t":75,"s":5,"v":0.132},{"t":80,"s":5,"v":0.131},{"t":85,"s":5,"v":0.134},{"t":90,"s":5,"v":0.14},{"t":95,"s":5,"v":0.142},{"t":100,"s":5,"v":0.138},
{"t":0,"s":6,"v":0.003},{"t":5,"s":6,"v":0.007},{"t":10,"s":6,"v":0.014},{"t":15,"s":6,"v":0.022},{"t":20,"s":6,"v":0.032},{"t":25,"s":6,"v":0.041},{"t":30,"s":6,"v":0.051},{"t":35,"s":6,"v":0.06},{"t":40,"s":6,"v":0.071},{"t":45,"s":6,"v":0.082},{"t":50,"s":6,"v":0.098},{"t":55,"s":6,"v":0.106},{"t":60,"s":6,"v":0.114},{"t":65,"s":6,"v":0.12},{"t":70,"s":6,"v":0.126},{"t":75,"s":6,"v":0.124},{"t":80,"s":6,"v":0.124},{"t":85,"s":6,"v":0.128},{"t":90,"s":6,"v":0.131},{"t":95,"s":6,"v":0.141},{"t":100,"s":6,"v":0.138}
]
},
"spacing":9,
"vconcat":[
{"title":{"text":"(a) Walrus","orient":"bottom","anchor":"middle","font":"Liberation Serif","fontSize":23,"fontWeight":"normal","color":"#000","offset":17},
 "spacing":12,
 "hconcat":[
 {"title":{"text":"RB","font":"Liberation Serif","fontSize":16,"fontWeight":"normal","color":"#000","offset":4},"width":232,"height":87,"view":{"stroke":"#000","strokeWidth":1.3},"data":{"name":"wRB"},"mark":{"type":"line","strokeWidth":1.7,"clip":true},
  "encoding":{"x":{"field":"t","type":"quantitative","scale":{"domain":[-1,194],"nice":false,"zero":false},"axis":{"title":"Time","values":[0,50,100,150],"domain":false,"grid":true,"gridColor":"#e3e3e3","tickColor":"#000","tickSize":6,"tickWidth":1.2,"labelFont":"Liberation Serif","labelFontSize":16,"labelColor":"#000","titleFont":"Liberation Serif","titleFontSize":16,"titleFontWeight":"normal","titleColor":"#000","labelFlush":false,"labelOverlap":false,"labelPadding":4,"titlePadding":8}},
   "y":{"field":"v","type":"quantitative","scale":{"domain":[0,1.035],"nice":false},"axis":{"title":"VRMSE","values":[0,1],"format":"d","domain":false,"grid":true,"gridColor":"#e3e3e3","tickColor":"#000","tickSize":6,"tickWidth":1.2,"labelFont":"Liberation Serif","labelFontSize":16,"labelColor":"#000","titleFont":"Liberation Serif","titleFontSize":16,"titleFontWeight":"normal","titleColor":"#000","labelFlush":false,"labelOverlap":false,"labelPadding":7,"titlePadding":5}},
   "color":{"field":"s","type":"nominal","legend":null,"scale":{"domain":[1,2,3,4,5,6],"range":["#cde0f2","#a6cde4","#7db8da","#519ccc","#2b7bba","#0f5ba3"]}}}},
 {"title":{"text":"Euler","font":"Liberation Serif","fontSize":16,"fontWeight":"normal","color":"#000","offset":4},"width":232,"height":87,"view":{"stroke":"#000","strokeWidth":1.3},"data":{"name":"wEu"},"mark":{"type":"line","strokeWidth":1.7,"clip":true},
  "encoding":{"x":{"field":"t","type":"quantitative","scale":{"domain":[-0.5,95],"nice":false,"zero":false},"axis":{"title":"Time","values":[0,25,50,75],"domain":false,"grid":true,"gridColor":"#e3e3e3","tickColor":"#000","tickSize":6,"tickWidth":1.2,"labelFont":"Liberation Serif","labelFontSize":16,"labelColor":"#000","titleFont":"Liberation Serif","titleFontSize":16,"titleFontWeight":"normal","titleColor":"#000","labelFlush":false,"labelOverlap":false,"labelPadding":4,"titlePadding":8}},
   "y":{"field":"v","type":"quantitative","scale":{"domain":[0,0.7],"nice":false},"axis":{"title":null,"values":[0,0.5],"format":".1f","domain":false,"grid":true,"gridColor":"#e3e3e3","tickColor":"#000","tickSize":6,"tickWidth":1.2,"labelFont":"Liberation Serif","labelFontSize":16,"labelColor":"#000","labelFlush":false,"labelOverlap":false,"labelPadding":7}},
   "color":{"field":"s","type":"nominal","legend":null,"scale":{"domain":[1,2,3,4,5,6],"range":["#cde0f2","#a6cde4","#7db8da","#519ccc","#2b7bba","#0f5ba3"]}}}},
 {"title":{"text":"Shear Flow","font":"Liberation Serif","fontSize":16,"fontWeight":"normal","color":"#000","offset":4},"width":232,"height":87,"view":{"stroke":"#000","strokeWidth":1.3},"data":{"name":"wSh"},"mark":{"type":"line","strokeWidth":1.7,"clip":true},
  "encoding":{"x":{"field":"t","type":"quantitative","scale":{"domain":[-0.6,100.8],"nice":false,"zero":false},"axis":{"title":"Time","values":[0,50,100],"domain":false,"grid":true,"gridColor":"#e3e3e3","tickColor":"#000","tickSize":6,"tickWidth":1.2,"labelFont":"Liberation Serif","labelFontSize":16,"labelColor":"#000","titleFont":"Liberation Serif","titleFontSize":16,"titleFontWeight":"normal","titleColor":"#000","labelFlush":false,"labelOverlap":false,"labelPadding":4,"titlePadding":8}},
   "y":{"field":"v","type":"quantitative","scale":{"domain":[0,0.16],"nice":false},"axis":{"title":null,"values":[0,0.1],"format":".1f","domain":false,"grid":true,"gridColor":"#e3e3e3","tickColor":"#000","tickSize":6,"tickWidth":1.2,"labelFont":"Liberation Serif","labelFontSize":16,"labelColor":"#000","labelFlush":false,"labelOverlap":false,"labelPadding":7}},
   "color":{"field":"s","type":"nominal","legend":null,"scale":{"domain":[1,2,3,4,5,6],"range":["#cde0f2","#a6cde4","#7db8da","#519ccc","#2b7bba","#0f5ba3"]}}}}
 ]},
{"title":{"text":"(b) Lola","orient":"bottom","anchor":"middle","font":"Liberation Serif","fontSize":23,"fontWeight":"normal","color":"#000","offset":17},
 "spacing":12,
 "hconcat":[
 {"title":{"text":"RB","font":"Liberation Serif","fontSize":16,"fontWeight":"normal","color":"#000","offset":4},"width":228,"height":87,"view":{"stroke":"#000","strokeWidth":1.3},"data":{"name":"lRB"},"mark":{"type":"line","strokeWidth":1.7,"clip":true},
  "encoding":{"x":{"field":"t","type":"quantitative","scale":{"domain":[-1,194.4],"nice":false,"zero":false},"axis":{"title":"Time","values":[0,50,100,150],"domain":false,"grid":true,"gridColor":"#e3e3e3","tickColor":"#000","tickSize":6,"tickWidth":1.2,"labelFont":"Liberation Serif","labelFontSize":16,"labelColor":"#000","titleFont":"Liberation Serif","titleFontSize":16,"titleFontWeight":"normal","titleColor":"#000","labelFlush":false,"labelOverlap":false,"labelPadding":4,"titlePadding":8}},
   "y":{"field":"v","type":"quantitative","scale":{"domain":[0,1.106],"nice":false},"axis":{"title":"VRMSE","values":[0,1],"format":"d","domain":false,"grid":true,"gridColor":"#e3e3e3","tickColor":"#000","tickSize":6,"tickWidth":1.2,"labelFont":"Liberation Serif","labelFontSize":16,"labelColor":"#000","titleFont":"Liberation Serif","titleFontSize":16,"titleFontWeight":"normal","titleColor":"#000","labelFlush":false,"labelOverlap":false,"labelPadding":7,"titlePadding":5}},
   "color":{"field":"s","type":"nominal","legend":null,"scale":{"domain":[1,2,3,4,5,6],"range":["#cde0f2","#a6cde4","#7db8da","#519ccc","#2b7bba","#0f5ba3"]}}}},
 {"title":{"text":"Euler","font":"Liberation Serif","fontSize":16,"fontWeight":"normal","color":"#000","offset":4},"width":228,"height":87,"view":{"stroke":"#000","strokeWidth":1.3},"data":{"name":"lEu"},"mark":{"type":"line","strokeWidth":1.7,"clip":true},
  "encoding":{"x":{"field":"t","type":"quantitative","scale":{"domain":[-0.7,100.3],"nice":false,"zero":false},"axis":{"title":"Time","values":[0,50,100],"domain":false,"grid":true,"gridColor":"#e3e3e3","tickColor":"#000","tickSize":6,"tickWidth":1.2,"labelFont":"Liberation Serif","labelFontSize":16,"labelColor":"#000","titleFont":"Liberation Serif","titleFontSize":16,"titleFontWeight":"normal","titleColor":"#000","labelFlush":false,"labelOverlap":false,"labelPadding":4,"titlePadding":8}},
   "y":{"field":"v","type":"quantitative","scale":{"domain":[0,0.7],"nice":false},"axis":{"title":null,"values":[0,0.5],"format":".1f","domain":false,"grid":true,"gridColor":"#e3e3e3","tickColor":"#000","tickSize":6,"tickWidth":1.2,"labelFont":"Liberation Serif","labelFontSize":16,"labelColor":"#000","labelFlush":false,"labelOverlap":false,"labelPadding":7}},
   "color":{"field":"s","type":"nominal","legend":null,"scale":{"domain":[1,2,3,4,5,6],"range":["#cde0f2","#a6cde4","#7db8da","#519ccc","#2b7bba","#0f5ba3"]}}}},
 {"title":{"text":"Shear Flow","font":"Liberation Serif","fontSize":16,"fontWeight":"normal","color":"#000","offset":4},"width":228,"height":87,"view":{"stroke":"#000","strokeWidth":1.3},"data":{"name":"lSh"},"mark":{"type":"line","strokeWidth":1.7,"clip":true},
  "encoding":{"x":{"field":"t","type":"quantitative","scale":{"domain":[-1,101],"nice":false,"zero":false},"axis":{"title":"Time","values":[0,50,100],"domain":false,"grid":true,"gridColor":"#e3e3e3","tickColor":"#000","tickSize":6,"tickWidth":1.2,"labelFont":"Liberation Serif","labelFontSize":16,"labelColor":"#000","titleFont":"Liberation Serif","titleFontSize":16,"titleFontWeight":"normal","titleColor":"#000","labelFlush":false,"labelOverlap":false,"labelPadding":4,"titlePadding":8}},
   "y":{"field":"v","type":"quantitative","scale":{"domain":[0,0.231],"nice":false},"axis":{"title":null,"values":[0,0.2],"format":".1f","domain":false,"grid":true,"gridColor":"#e3e3e3","tickColor":"#000","tickSize":6,"tickWidth":1.2,"labelFont":"Liberation Serif","labelFontSize":16,"labelColor":"#000","labelFlush":false,"labelOverlap":false,"labelPadding":7}},
   "color":{"field":"s","type":"nominal","legend":null,"scale":{"domain":[1,2,3,4,5,6],"range":["#cde0f2","#a6cde4","#7db8da","#519ccc","#2b7bba","#0f5ba3"]}}}}
 ]},
{"title":{"text":"(c) Poseidon","orient":"bottom","anchor":"middle","font":"Liberation Serif","fontSize":23,"fontWeight":"normal","color":"#000","offset":17},
 "spacing":7,
 "hconcat":[
 {"title":{"text":"RB","font":"Liberation Serif","fontSize":16,"fontWeight":"normal","color":"#000","offset":4},"width":236,"height":88,"view":{"stroke":"#000","strokeWidth":1.3},"data":{"name":"pRB"},"mark":{"type":"line","strokeWidth":1.7,"clip":true},
  "encoding":{"x":{"field":"t","type":"quantitative","scale":{"domain":[-1,194],"nice":false,"zero":false},"axis":{"title":"Time","values":[0,50,100,150],"domain":false,"grid":true,"gridColor":"#e3e3e3","tickColor":"#000","tickSize":6,"tickWidth":1.2,"labelFont":"Liberation Serif","labelFontSize":16,"labelColor":"#000","titleFont":"Liberation Serif","titleFontSize":16,"titleFontWeight":"normal","titleColor":"#000","labelFlush":false,"labelOverlap":false,"labelPadding":4,"titlePadding":8}},
   "y":{"field":"v","type":"quantitative","scale":{"domain":[0,1.506],"nice":false},"axis":{"title":"VRMSE","values":[0,1],"format":"d","domain":false,"grid":true,"gridColor":"#e3e3e3","tickColor":"#000","tickSize":6,"tickWidth":1.2,"labelFont":"Liberation Serif","labelFontSize":16,"labelColor":"#000","titleFont":"Liberation Serif","titleFontSize":16,"titleFontWeight":"normal","titleColor":"#000","labelFlush":false,"labelOverlap":false,"labelPadding":7,"titlePadding":5}},
   "color":{"field":"s","type":"nominal","legend":null,"scale":{"domain":[1,2,3,4,5,6],"range":["#cde0f2","#a6cde4","#7db8da","#519ccc","#2b7bba","#0f5ba3"]}}}},
 {"spacing":12,"hconcat":[
 {"title":{"text":"Euler","font":"Liberation Serif","fontSize":16,"fontWeight":"normal","color":"#000","offset":4},"width":236,"height":88,"view":{"stroke":"#000","strokeWidth":1.3},"data":{"name":"pEu"},"mark":{"type":"line","strokeWidth":1.7,"clip":true},
  "encoding":{"x":{"field":"t","type":"quantitative","scale":{"domain":[-0.9,95.2],"nice":false,"zero":false},"axis":{"title":"Time","values":[0,25,50,75],"domain":false,"grid":true,"gridColor":"#e3e3e3","tickColor":"#000","tickSize":6,"tickWidth":1.2,"labelFont":"Liberation Serif","labelFontSize":16,"labelColor":"#000","titleFont":"Liberation Serif","titleFontSize":16,"titleFontWeight":"normal","titleColor":"#000","labelFlush":false,"labelOverlap":false,"labelPadding":4,"titlePadding":8}},
   "y":{"field":"v","type":"quantitative","scale":{"domain":[0,1.209],"nice":false},"axis":{"title":null,"values":[0,1],"format":"d","domain":false,"grid":true,"gridColor":"#e3e3e3","tickColor":"#000","tickSize":6,"tickWidth":1.2,"labelFont":"Liberation Serif","labelFontSize":16,"labelColor":"#000","labelFlush":false,"labelOverlap":false,"labelPadding":7}},
   "color":{"field":"s","type":"nominal","legend":null,"scale":{"domain":[1,2,3,4,5,6],"range":["#cde0f2","#a6cde4","#7db8da","#519ccc","#2b7bba","#0f5ba3"]}}}},
 {"title":{"text":"Shear Flow","font":"Liberation Serif","fontSize":16,"fontWeight":"normal","color":"#000","offset":4},"width":236,"height":88,"view":{"stroke":"#000","strokeWidth":1.3},"data":{"name":"pSh"},"mark":{"type":"line","strokeWidth":1.7,"clip":true},
  "encoding":{"x":{"field":"t","type":"quantitative","scale":{"domain":[-0.7,100.9],"nice":false,"zero":false},"axis":{"title":"Time","values":[0,50,100],"domain":false,"grid":true,"gridColor":"#e3e3e3","tickColor":"#000","tickSize":6,"tickWidth":1.2,"labelFont":"Liberation Serif","labelFontSize":16,"labelColor":"#000","titleFont":"Liberation Serif","titleFontSize":16,"titleFontWeight":"normal","titleColor":"#000","labelFlush":false,"labelOverlap":false,"labelPadding":4,"titlePadding":8}},
   "y":{"field":"v","type":"quantitative","scale":{"domain":[0,0.181],"nice":false},"axis":{"title":null,"values":[0,0.1],"format":".1f","domain":false,"grid":true,"gridColor":"#e3e3e3","tickColor":"#000","tickSize":6,"tickWidth":1.2,"labelFont":"Liberation Serif","labelFontSize":16,"labelColor":"#000","labelFlush":false,"labelOverlap":false,"labelPadding":7}},
   "color":{"field":"s","type":"nominal","legend":null,"scale":{"domain":[1,2,3,4,5,6],"range":["#cde0f2","#a6cde4","#7db8da","#519ccc","#2b7bba","#0f5ba3"]}}}}
 ]}
 ]}
]
}
